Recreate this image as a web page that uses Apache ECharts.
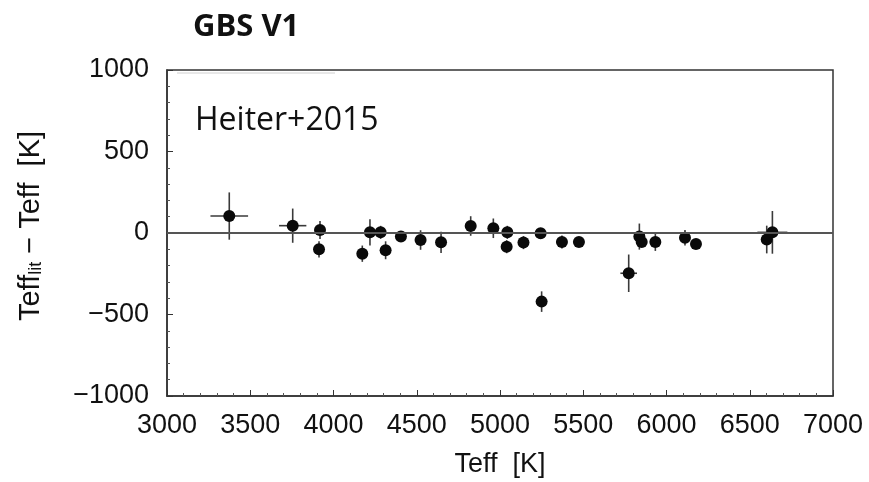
<!DOCTYPE html>
<html>
<head>
<meta charset="utf-8">
<script src="https://cdn.jsdelivr.net/npm/echarts@6/dist/echarts.min.js"></script>
<style>
  html, body { margin: 0; padding: 0; background: #fff; }
  #chart { width: 869px; height: 482px; }
</style>
</head>
<body>
<div id="chart"></div>
<script>
// ---- data ----
const teff     = [3374, 3755, 3913, 3919, 4173, 4219, 4283, 4313, 4405, 4523, 4646, 4824, 4960, 5040, 5044, 5141, 5244, 5250, 5372, 5474, 5773, 5837, 5851, 5933, 6111, 6177, 6602, 6636];
const dTeff    = [104, 45, -100, 18, -127, 4, 4, -106, -22, -43, -57, 43, 29, -84, 4, -59, -2, -421, -55, -55, -247, -22, -55, -55, -29, -67, -40, 4];
const errDiff  = [145, 105, 50, 55, 50, 80, 40, 55, 30, 60, 65, 60, 60, 40, 40, 40, 25, 63, 40, 25, 115, 80, 30, 55, 48, 25, 85, 131];
const errTeff  = [113, 82, 0, 0, 0, 30, 0, 0, 0, 0, 0, 0, 0, 0, 0, 0, 0, 0, 0, 0, 50, 0, 0, 0, 0, 0, 0, 90];
const xTicks = { min: 3000, max: 7000, interval: 500 };
const yTicks = { min: -1000, max: 1000, interval: 500 };

const points = teff.map((t, i) => [t, dTeff[i], errTeff[i], errDiff[i]]);

const FONT = "'Liberation Sans', Arial, sans-serif";
const chart = echarts.init(document.getElementById('chart'), null, { renderer: 'canvas' });

chart.setOption({
  backgroundColor: '#fff',
  animation: false,
  title: [
    { text: 'GBS V1', left: 188, top: 7,
      textStyle: { fontFamily: "'Open Sans', sans-serif", fontWeight: 'bold', fontSize: 31, color: '#111' } },
    { text: 'Heiter+2015', left: 190, top: 100,
      textStyle: { fontFamily: "'Open Sans', sans-serif", fontWeight: 'normal', fontSize: 32, color: '#111' } }
  ],
  graphic: [
    { type: 'line', shape: { x1: 177, y1: 73, x2: 335, y2: 73 }, style: { stroke: '#d0d0d0', lineWidth: 1 }, silent: true }
  ],
  grid: { left: 167, right: 36, top: 70, bottom: 86, show: true, borderColor: '#333', borderWidth: 1.5,
          outerBoundsMode: 'none', containLabel: false },
  xAxis: {
    type: 'value', min: xTicks.min, max: xTicks.max, interval: xTicks.interval,
    name: 'Teff  [K]', nameLocation: 'middle', nameGap: 55,
    nameTextStyle: { fontFamily: FONT, fontSize: 27, color: '#111' },
    axisLine: { show: true, onZero: false, lineStyle: { color: '#333', width: 1.5 } },
    axisTick: { show: true, inside: true, length: 6, lineStyle: { color: '#333', width: 1 } },
    minorTick: { show: true, splitNumber: 5, length: 3, lineStyle: { color: '#555', width: 1 } },
    splitLine: { show: false },
    axisLabel: { fontFamily: FONT, fontSize: 27, color: '#111', margin: 16,
      formatter: v => String(v) }
  },
  yAxis: {
    type: 'value', min: yTicks.min, max: yTicks.max, interval: yTicks.interval,
    name: 'Teff{s|lit} − Teff  [K]', nameLocation: 'middle', nameGap: 122, nameRotate: 90,
    nameTextStyle: { fontFamily: FONT, fontSize: 29, color: '#111', padding: [0, 0, 0, 14],
      rich: { s: { fontFamily: FONT, fontSize: 18, color: '#111', verticalAlign: 'bottom' } } },
    axisLine: { show: true, onZero: false, lineStyle: { color: '#333', width: 1.5 } },
    axisTick: { show: true, inside: true, length: 6, lineStyle: { color: '#333', width: 1 } },
    minorTick: { show: true, splitNumber: 5, length: 3, lineStyle: { color: '#555', width: 1 } },
    splitLine: { show: false },
    axisLabel: { fontFamily: FONT, fontSize: 27, color: '#111', margin: 18,
      formatter: v => String(v).replace('-', '\u2212') }
  },
  series: [
    {
      type: 'custom',
      data: points,
      z: 3,
      silent: true,
      renderItem: function (params, api) {
        const x = api.value(0), y = api.value(1), ex = api.value(2), ey = api.value(3);
        const st = { stroke: '#3a3a3a', lineWidth: 1.6 };
        const children = [];
        const top = api.coord([x, y + ey]), bot = api.coord([x, y - ey]);
        children.push({ type: 'line', shape: { x1: top[0], y1: top[1], x2: bot[0], y2: bot[1] }, style: st });
        if (ex > 0) {
          const l = api.coord([x - ex, y]), r = api.coord([x + ex, y]);
          children.push({ type: 'line', shape: { x1: l[0], y1: l[1], x2: r[0], y2: r[1] }, style: st });
        }
        return { type: 'group', children: children };
      }
    },
    {
      type: 'scatter',
      data: points.map(p => [p[0], p[1]]),
      symbol: 'circle',
      symbolSize: 12,
      z: 4,
      itemStyle: { color: '#0a0a0a', opacity: 1 },
      markLine: {
        silent: true, symbol: ['none', 'none'], label: { show: false },
        lineStyle: { color: '#555', width: 2, type: 'solid' },
        data: [{ yAxis: 0 }]
      }
    }
  ]
});
</script>
</body>
</html>
